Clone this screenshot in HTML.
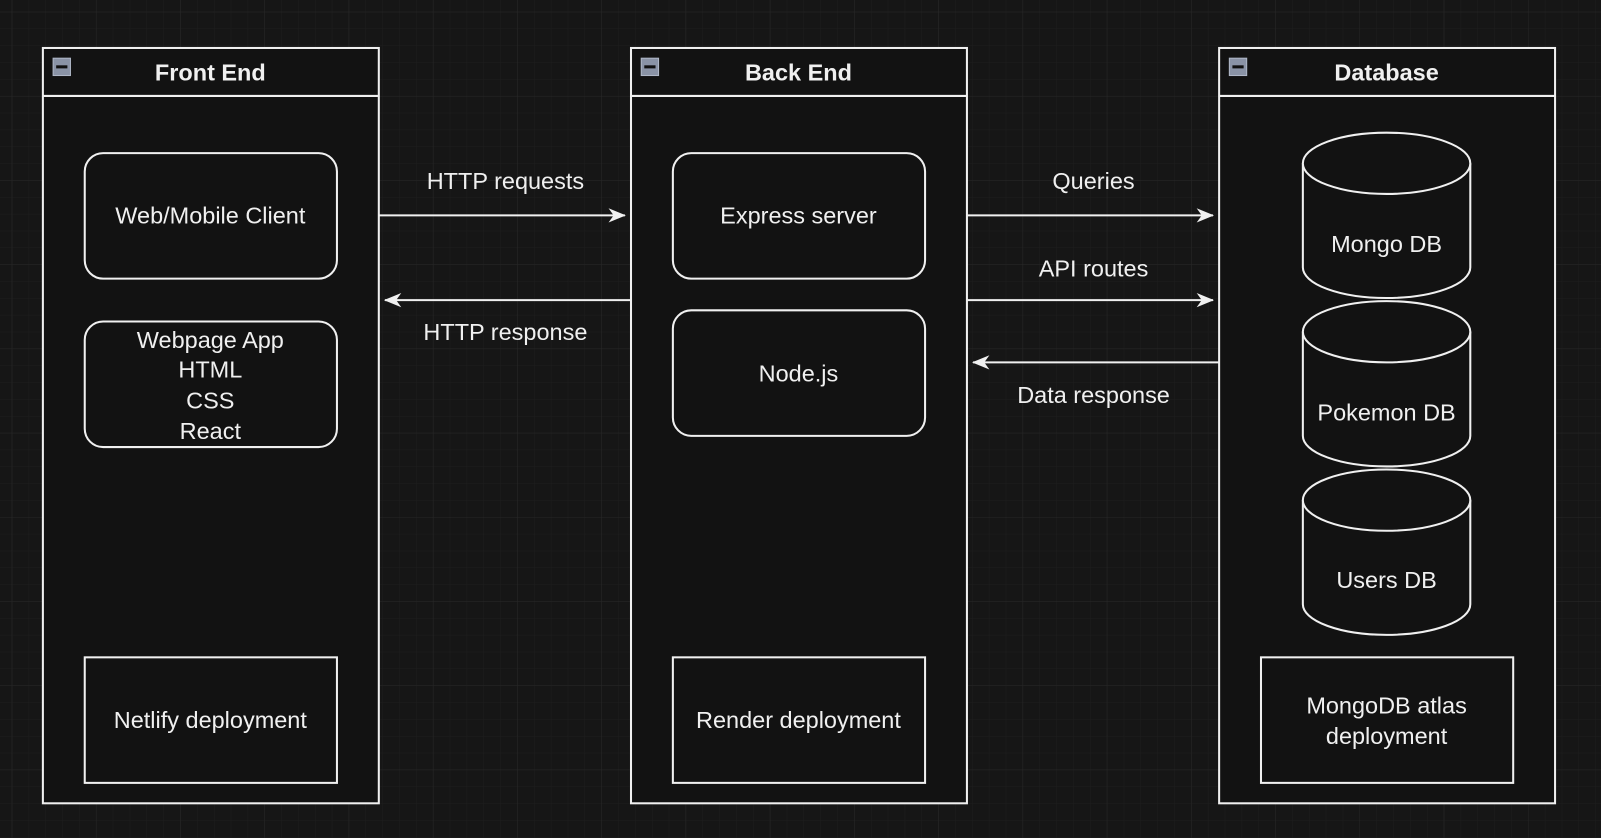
<!DOCTYPE html>
<html><head><meta charset="utf-8"><style>
html,body{margin:0;padding:0;background:#161616;}
svg{display:block;}
text{font-family:"Liberation Sans",sans-serif;fill:#f0f0f0;}
</style></head><body>
<svg width="1601" height="838" viewBox="0 0 1568 821" preserveAspectRatio="none" xmlns="http://www.w3.org/2000/svg">
<defs>
<pattern id="g1" width="16.5" height="16.5" patternUnits="userSpaceOnUse" x="12" y="12">
<path d="M16.5 0V16.5H0" fill="none" stroke="#1e1e1e" stroke-width="1"/></pattern>
<pattern id="g2" width="82.5" height="82.5" patternUnits="userSpaceOnUse" x="12" y="12">
<path d="M82.5 0V82.5H0" fill="none" stroke="#272727" stroke-width="1"/></pattern>
<marker id="a" markerWidth="18" markerHeight="16" refX="16" refY="8" orient="auto" markerUnits="userSpaceOnUse">
<path d="M0,1 L17,8 L0,15 L5,8 Z" fill="#f0f0f0"/></marker>
</defs>
<rect width="1568" height="821" fill="#161616"/>
<rect width="1568" height="821" fill="url(#g1)"/>
<rect width="1568" height="821" fill="url(#g2)"/>
<g fill="#121212" stroke="#f0f0f0" stroke-width="2">
<rect x="42" y="47" width="329" height="740"/><line x1="42" y1="94" x2="371" y2="94"/>
<rect x="618" y="47" width="329" height="740"/><line x1="618" y1="94" x2="947" y2="94"/>
<rect x="1194" y="47" width="329" height="740"/><line x1="1194" y1="94" x2="1523" y2="94"/>
</g>
<g>
<rect x="52" y="57" width="17" height="17" fill="#8a93a6" stroke="#b0b8c8"/><rect x="55" y="64" width="11" height="3" fill="#111"/>
<rect x="628" y="57" width="17" height="17" fill="#8a93a6" stroke="#b0b8c8"/><rect x="631" y="64" width="11" height="3" fill="#111"/>
<rect x="1204" y="57" width="17" height="17" fill="#8a93a6" stroke="#b0b8c8"/><rect x="1207" y="64" width="11" height="3" fill="#111"/>
</g>
<g font-weight="bold" font-size="23" text-anchor="middle">
<text x="206" y="79">Front End</text><text x="782" y="79">Back End</text><text x="1358" y="79">Database</text>
</g>
<g fill="none" stroke="#f0f0f0" stroke-width="2">
<rect x="83" y="150" width="247" height="123" rx="18"/>
<rect x="83" y="315" width="247" height="123" rx="18"/>
<rect x="83" y="644" width="247" height="123"/>
<rect x="659" y="150" width="247" height="123" rx="18"/>
<rect x="659" y="304" width="247" height="123" rx="18"/>
<rect x="659" y="644" width="247" height="123"/>
<rect x="1235" y="644" width="247" height="123"/>
</g>
<g fill="#121212" stroke="#f0f0f0" stroke-width="2">
<path d="M1276,160 V262 A82,30 0 0 0 1440,262 V160"/><ellipse cx="1358" cy="160" rx="82" ry="30"/>
<path d="M1276,325 V427 A82,30 0 0 0 1440,427 V325"/><ellipse cx="1358" cy="325" rx="82" ry="30"/>
<path d="M1276,490 V592 A82,30 0 0 0 1440,592 V490"/><ellipse cx="1358" cy="490" rx="82" ry="30"/>
</g>
<g font-size="23" text-anchor="middle">
<text x="206" y="219">Web/Mobile Client</text>
<text x="206" y="341">Webpage App</text><text x="206" y="370">HTML</text><text x="206" y="400">CSS</text><text x="206" y="430">React</text>
<text x="206" y="713">Netlify deployment</text>
<text x="782" y="219">Express server</text>
<text x="782" y="374">Node.js</text>
<text x="782" y="713">Render deployment</text>
<text x="1358" y="247">Mongo DB</text>
<text x="1358" y="412">Pokemon DB</text>
<text x="1358" y="576">Users DB</text>
<text x="1358" y="699">MongoDB atlas</text><text x="1358" y="729">deployment</text>
<text x="495" y="185">HTTP requests</text>
<text x="495" y="333">HTTP response</text>
<text x="1071" y="185">Queries</text>
<text x="1071" y="271">API routes</text>
<text x="1071" y="395">Data response</text>
</g>
<g stroke="#f0f0f0" stroke-width="2" marker-end="url(#a)">
<line x1="371" y1="211" x2="612" y2="211"/>
<line x1="618" y1="294" x2="377" y2="294"/>
<line x1="947" y1="211" x2="1188" y2="211"/>
<line x1="947" y1="294" x2="1188" y2="294"/>
<line x1="1194" y1="355" x2="953" y2="355"/>
</g>
</svg>
</body></html>
